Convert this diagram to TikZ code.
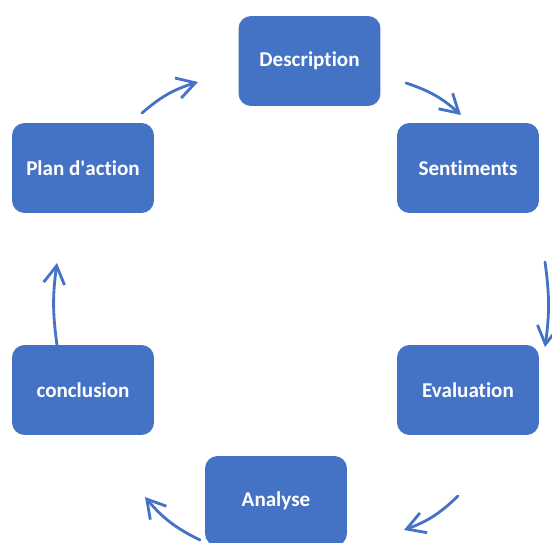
\documentclass[tikz,border=0pt]{standalone}
\usepackage{fontspec}
\setmainfont{Carlito}[Ligatures=NoCommon]
\usepackage{tikz}
\usetikzlibrary{arrows.meta}
\definecolor{stepblue}{RGB}{68, 114, 196}

\begin{document}
\begin{tikzpicture}[x=0.02cm, y=-0.02cm,
    stagebox/.style={fill=stepblue, rounded corners=0.25cm, minimum width=2.84cm, minimum height=1.8cm, text=white, font=\fontsize{12}{14}\selectfont\bfseries},
    cyclearrow/.style={draw=stepblue, line width=1.6pt, line cap=round, -{Straight Barb[length=0.36cm, width=0.42cm, line width=1.6pt]}}]
                \useasboundingbox (0,0) rectangle (552,542);

                % Stages
                \node[stagebox] (description) at (309.5,61) {Description};
                \node[stagebox] (sentiments) at (468,168) {Sentiments};
                \node[stagebox] (evaluation) at (468,390) {Evaluation};
                \node[stagebox] (analyse) at (276,501) {Analyse};
                \node[stagebox] (conclusion) at (83,390) {conclusion};
                \node[stagebox] (plan) at (83,168) {Plan d\textquotesingle action};

                % Arrow ends
                \coordinate (a1s) at (142,113); \coordinate (a1e) at (198,82);
                \coordinate (a2s) at (406,83);  \coordinate (a2e) at (461,115);
                \coordinate (a3s) at (545,262); \coordinate (a3e) at (545,347);
                \coordinate (a4s) at (458,496); \coordinate (a4e) at (404,530);
                \coordinate (a5s) at (200,540); \coordinate (a5e) at (145,497);
                \coordinate (a6s) at (57,345);  \coordinate (a6e) at (57,263);

                % Cycle arrows
                \draw[cyclearrow] (a1s) to[bend left=12] (a1e);
                \draw[cyclearrow] (a2s) to[bend left=12] (a2e);
                \draw[cyclearrow] (a3s) to[bend left=8] (a3e);
                \draw[cyclearrow] (a4s) to[bend left=12] (a4e);
                \draw[cyclearrow] (a5s) to[bend left=12] (a5e);
                \draw[cyclearrow] (a6s) to[bend left=8] (a6e);
            \end{tikzpicture}
\end{document}
